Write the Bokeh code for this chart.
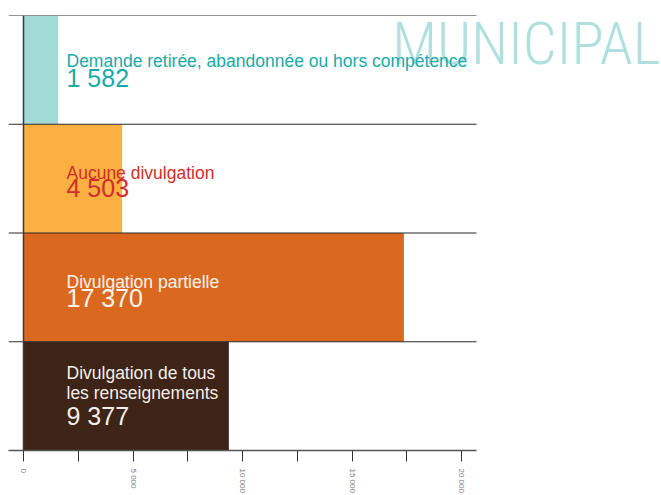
from bokeh.plotting import figure
from bokeh.models import ColumnDataSource, Range1d, FixedTicker, Span
from bokeh.core.properties import value
from bokeh.embed import file_html
from bokeh.resources import INLINE

# ---- data ----
categories = [
    "Demande retirée, abandonnée ou hors compétence",
    "Aucune divulgation",
    "Divulgation partielle",
    "Divulgation de tous\nles renseignements",
]
values = [1582, 4503, 17370, 9377]
value_labels = ["1 582", "4 503", "17 370", "9 377"]
tick_values = [0, 5000, 10000, 15000, 20000]
tick_labels = ["0", "5 000", "10 000", "15 000", "20 000"]
minor_tick_values = [2500, 7500, 12500, 17500]
title_text = "MUNICIPAL"

# ---- styles / layout ----
bar_colors = ["#A2DAD6", "#FCB042", "#DB681F", "#3D2416"]
cat_colors = ["#17ABA5", "#CF2E2C", "#FBF4EE", "#F3EEE9"]
cat_offsets = [-9, -6, -5, -13]
val_offsets = [8, 9, 11, 20]
x_start, axis_end, x_end = -685, 20685, 29132
title_x, title_y = 29087, 3.74

n = len(categories)
ys = [n - 0.5 - i for i in range(n)]

src = ColumnDataSource(dict(
    y=ys, value=values, cat=categories, lab=value_labels,
    color=bar_colors, tcolor=cat_colors, coff=cat_offsets, voff=val_offsets,
))

p = figure(
    width=661, height=495, output_backend="svg", toolbar_location=None,
    x_range=Range1d(x_start, x_end), y_range=Range1d(0, n),
    min_border_left=8, min_border_right=0, min_border_top=15, min_border_bottom=43,
)
p.outline_line_color = None
p.background_fill_color = "white"
p.border_fill_color = "white"
p.xgrid.visible = False
p.ygrid.visible = False
p.yaxis.visible = False

# big section title (drawn first so the labels sit on top of it)
p.text(x=[title_x], y=[title_y], text=[title_text], text_align="right",
       text_baseline="alphabetic", text_color="#B0E0DE",
       text_font=value("Roboto Condensed Light"), text_font_size="60px")

p.hbar(y="y", left=0, right="value", height=1, fill_color="color", line_color=None, source=src)

# band boundary lines
bounds_y = list(range(1, n + 1))
p.segment(x0=x_start, x1=axis_end, y0=bounds_y, y1=bounds_y, line_color="#2b2b2b", line_width=1.2)

p.add_layout(Span(location=0, dimension="height", line_color="#3a3a3a", line_width=1.5))

p.text(x=0, y="y", text="cat", x_offset=43, y_offset="coff", text_color="tcolor",
       text_font=value("Liberation Sans"), text_font_size="17.5px",
       text_baseline="alphabetic", text_line_height=1.0, source=src)
p.text(x=0, y="y", text="lab", x_offset=43, y_offset="voff", text_color="tcolor",
       text_font=value("Liberation Sans"), text_font_size="25px",
       text_baseline="alphabetic", source=src)

ax = p.xaxis[0]
ax.bounds = (x_start, axis_end)
ax.ticker = FixedTicker(ticks=tick_values, minor_ticks=minor_tick_values)
ax.major_label_overrides = {t: l for t, l in zip(tick_values, tick_labels)}
ax.major_label_orientation = "vertical"
ax.major_label_text_font = "Liberation Sans"
ax.major_label_text_font_size = "8px"
ax.major_label_text_color = "#7a7a7a"
ax.major_label_standoff = 7
ax.axis_line_color = "#555555"
ax.axis_line_width = 1.5
ax.major_tick_out = 11
ax.major_tick_in = 0
ax.minor_tick_out = 11
ax.minor_tick_in = 0
ax.major_tick_line_color = "#333333"
ax.minor_tick_line_color = "#333333"

open("out.html", "w").write(file_html(p, INLINE))
